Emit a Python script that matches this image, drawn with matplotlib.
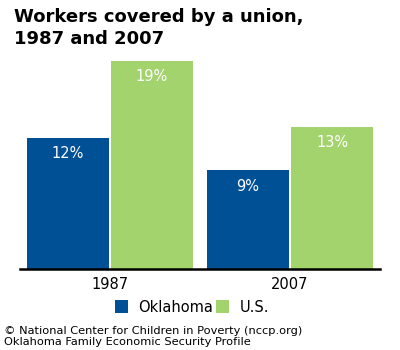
import matplotlib
matplotlib.use("Agg")
import matplotlib.pyplot as plt
import numpy as np

years = ["1987", "2007"]
oklahoma = [12, 9]
us = [19, 13]
series_names = ["Oklahoma", "U.S."]
footer_lines = ["© National Center for Children in Poverty (nccp.org)",
                "Oklahoma Family Economic Security Profile"]

blue = "#005096"
green = "#A3D36C"

plt.rcParams["font.family"] = ["DejaVu Sans"]

fig = plt.figure(figsize=(4, 3.5), dpi=100)
ax = fig.add_axes([20 / 400, 81 / 350, 360 / 400, 214 / 350])

x = np.arange(len(years))
w = 82 / 180
off = 42 / 180
b1 = ax.bar(x - off, oklahoma, width=w, color=blue, label=series_names[0])
b2 = ax.bar(x + off, us, width=w, color=green, label=series_names[1])

for bars, vals in ((b1, oklahoma), (b2, us)):
    for r, v in zip(bars, vals):
        ax.annotate(f"{v}%", (r.get_x() + r.get_width() / 2, v),
                    xytext=(0, -6), textcoords="offset points",
                    ha="center", va="top", color="white", fontsize=10.5)

ax.set_xlim(-0.5, 1.5)
ax.set_ylim(0, 214 / 10.95)
ax.set_xticks(x)
ax.set_xticklabels(years, fontsize=10.5)
ax.tick_params(axis="x", length=0, pad=6)
ax.set_yticks([])
for s in ("top", "left", "right"):
    ax.spines[s].set_visible(False)
ax.spines["bottom"].set_linewidth(1.8)

fig.text(14 / 400, 1 - 8 / 350, "Workers covered by a union,\n1987 and 2007",
         ha="left", va="top", fontsize=13, fontweight="bold", linespacing=1.3)

fig.legend(handles=[b1, b2], labels=series_names, loc="center",
           bbox_to_anchor=(0.5 - 8 / 400, 1 - 307 / 350), ncol=2, frameon=False,
           fontsize=10.5, handlelength=0.9, handleheight=0.9,
           columnspacing=0.2, handletextpad=0.7)

for i, line in enumerate(footer_lines):
    fig.text(4 / 400, 1 - (331 + 11 * i) / 350, line,
             ha="left", va="center", fontsize=8.2)

fig.savefig("out.png", dpi=100)
